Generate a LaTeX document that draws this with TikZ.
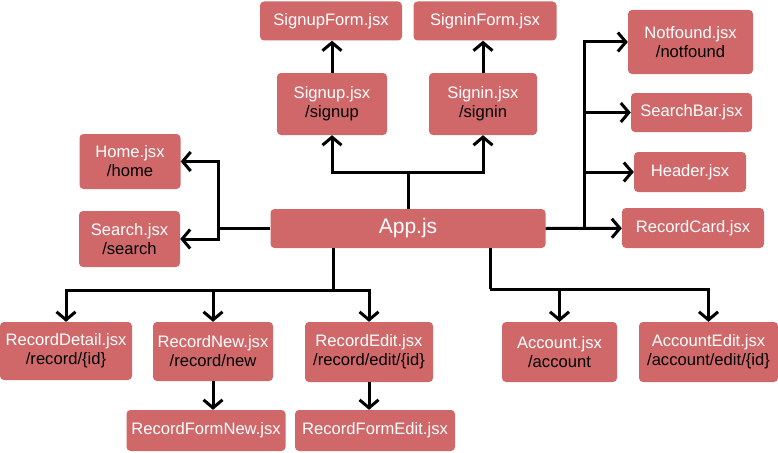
\documentclass[tikz,border=0pt]{standalone}
\usepackage{fontspec}
\setmainfont{Liberation Sans}
\usepackage{xcolor}
\usetikzlibrary{arrows.meta}
\definecolor{cbox}{RGB}{208,104,106}
\newcommand{\rt}[1]{\textcolor{black}{#1}}
\tikzset{
  comp/.style={rectangle, rounded corners=4pt, fill=cbox, text=white,
               font=\fontsize{16.6}{19}\selectfont, align=center, inner sep=0pt},
  wire/.style={line width=3pt, black},
  arr/.style={wire, -{Straight Barb[length=8pt,width=19pt]}},
}

\begin{document}
\begin{tikzpicture}[x=1pt, y=-1pt]
  \useasboundingbox (0,0) rectangle (778,452);

  % ── Nodes ──────────────────────────────────────────────────────────────────
  \node[comp, minimum width=275pt, minimum height=39pt,
        font=\fontsize{21}{24}\selectfont] at (408,228.5) (app) {App.js};

  \node[comp, minimum width=142pt, minimum height=39pt] at (331,21)    (signupform) {SignupForm.jsx};
  \node[comp, minimum width=143pt, minimum height=39pt] at (485,21)    (signinform) {SigninForm.jsx};
  \node[comp, minimum width=110pt, minimum height=62pt] at (332,104)   (signup)     {Signup.jsx\\\rt{/signup}};
  \node[comp, minimum width=108pt, minimum height=62pt] at (483,104)   (signin)     {Signin.jsx\\\rt{/signin}};

  \node[comp, minimum width=101pt, minimum height=55pt] at (130,161.5) (home)       {Home.jsx\\\rt{/home}};
  \node[comp, minimum width=101pt, minimum height=56pt] at (129.5,239) (search)     {Search.jsx\\\rt{/search}};

  \node[comp, minimum width=125pt, minimum height=64pt] at (690.5,42)  (notfound)   {Notfound.jsx\\\rt{/notfound}};
  \node[comp, minimum width=121pt, minimum height=39pt] at (691.5,112.5)(searchbar) {SearchBar.jsx};
  \node[comp, minimum width=112pt, minimum height=40pt] at (690,172)   (header)     {Header.jsx};
  \node[comp, minimum width=142pt, minimum height=40pt] at (693,228)   (recordcard) {RecordCard.jsx};

  \node[comp, minimum width=132pt, minimum height=58pt] at (66,351)    (recorddetail) {RecordDetail.jsx\\\rt{/record/\{id\}}};
  \node[comp, minimum width=120pt, minimum height=59pt] at (213,351.5) (recordnew)    {RecordNew.jsx\\\rt{/record/new}};
  \node[comp, minimum width=128pt, minimum height=60pt] at (369,352)   (recordedit)   {RecordEdit.jsx\\\rt{/record/edit/\{id\}}};
  \node[comp, minimum width=159pt, minimum height=41pt] at (206,430.5) (recordformnew)  {RecordFormNew.jsx};
  \node[comp, minimum width=160pt, minimum height=41pt] at (375,430.5) (recordformedit) {RecordFormEdit.jsx};

  \node[comp, minimum width=115pt, minimum height=60pt] at (559.5,352) (account)     {Account.jsx\\\rt{/account}};
  \node[comp, minimum width=139pt, minimum height=60pt] at (708.5,352) (accountedit) {AccountEdit.jsx\\\rt{/account/edit/\{id\}}};

  % ── Junctions ──────────────────────────────────────────────────────────────
  \coordinate (upj)    at (408,172);
  \coordinate (leftj)  at (218,228.5);
  \coordinate (rightj) at (584,228.5);
  \coordinate (recj)   at (333,290);
  \coordinate (accj)   at (490,289);

  % ── Arrows ─────────────────────────────────────────────────────────────────
  \draw[wire] (app.north) -- (upj);
  \draw[arr]  (upj) -| (signup);
  \draw[arr]  (upj) -| (signin);
  \draw[arr]  (signup.north) -- (signup.north |- signupform.south);
  \draw[arr]  (signin.north) -- (signin.north |- signinform.south);

  \draw[wire] (app.west) -- (leftj);
  \draw[arr]  (leftj) |- (home);
  \draw[arr]  (leftj) |- (search);

  \draw[arr]  (app.east) -- (recordcard);
  \draw[arr]  (rightj) |- (notfound);
  \draw[arr]  (rightj) |- (searchbar);
  \draw[arr]  (rightj) |- (header);

  \draw[wire] (app.south -| recj) -- (recj);
  \draw[arr]  (recj) -| (recorddetail);
  \draw[arr]  (recj) -| (recordnew);
  \draw[arr]  (recj) -| (recordedit);
  \draw[arr]  (recordnew.south) -- (recordnew.south |- recordformnew.north);
  \draw[arr]  (recordedit.south) -- (recordedit.south |- recordformedit.north);

  \draw[wire] (app.south -| accj) -- (accj);
  \draw[arr]  (accj) -| (account);
  \draw[arr]  (accj) -| (accountedit);
\end{tikzpicture}
\end{document}
